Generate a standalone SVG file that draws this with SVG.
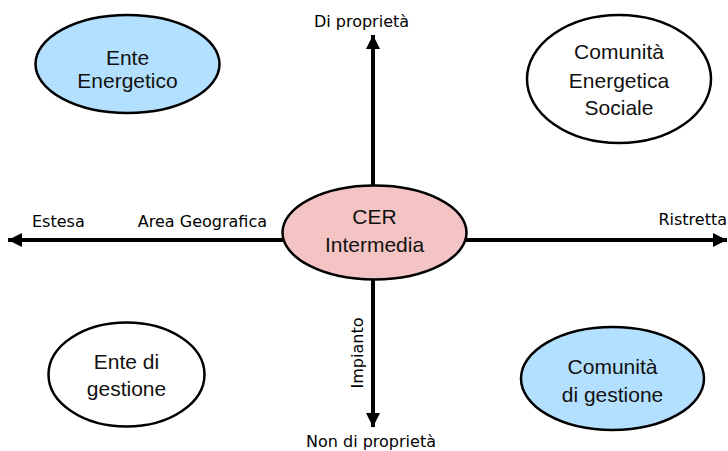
<svg xmlns="http://www.w3.org/2000/svg" width="728" height="451" viewBox="0 0 728 451">
<style>
.node ellipse{stroke:#000;stroke-width:2.5}
.nt{font-family:"Liberation Sans",Arial,sans-serif;font-size:21px;fill:#111;text-anchor:middle}
.lbl{font-family:"DejaVu Sans",Verdana,sans-serif;font-size:16px;fill:#000}
.ax{stroke:#000;stroke-width:4;fill:none}
</style>
<defs>
<marker id="ah" viewBox="0 0 10 10" refX="10" refY="5" markerWidth="3.6" markerHeight="3.6" orient="auto" markerUnits="strokeWidth">
<path d="M0,0 L10,5 L0,10 Z" fill="#000"/>
</marker>
</defs>
<rect width="728" height="451" fill="#fff"/>
<g id="connectors">
<line class="ax" x1="373" y1="186" x2="373" y2="35" marker-end="url(#ah)"/>
<line class="ax" x1="373" y1="279" x2="373" y2="427" marker-end="url(#ah)"/>
<line class="ax" x1="283" y1="240" x2="8" y2="240" marker-end="url(#ah)"/>
<line class="ax" x1="466" y1="240" x2="727" y2="240" marker-end="url(#ah)"/>
</g>
<g id="labels">
<text class="lbl" x="361.5" y="27" text-anchor="middle">Di proprietà</text>
<text class="lbl" x="371" y="447" text-anchor="middle">Non di proprietà</text>
<text class="lbl" x="32" y="227">Estesa</text>
<text class="lbl" x="267" y="227" text-anchor="end">Area Geografica</text>
<text class="lbl" x="727" y="225" text-anchor="end">Ristretta</text>
<text class="lbl" transform="translate(363,353) rotate(-90)" text-anchor="middle">Impianto</text>
</g>
<g id="ente-energetico" class="node">
<ellipse cx="127.5" cy="64" rx="92" ry="49" fill="#b3e0ff"/>
<text class="nt" x="127.5" y="65">Ente</text>
<text class="nt" x="127.5" y="88">Energetico</text>
</g>
<g id="comunita-energetica-sociale" class="node">
<ellipse cx="619" cy="79" rx="92" ry="64" fill="#fff"/>
<text class="nt" x="619" y="59">Comunità</text>
<text class="nt" x="619" y="88">Energetica</text>
<text class="nt" x="619" y="115">Sociale</text>
</g>
<g id="cer-intermedia" class="node">
<ellipse cx="374.5" cy="232.5" rx="92" ry="47" fill="#f4c4c4"/>
<text class="nt" x="374.5" y="224">CER</text>
<text class="nt" x="374.5" y="252">Intermedia</text>
</g>
<g id="ente-di-gestione" class="node">
<ellipse cx="126.5" cy="374.5" rx="78" ry="52" fill="#fff"/>
<text class="nt" x="126.5" y="369">Ente di</text>
<text class="nt" x="126.5" y="396">gestione</text>
</g>
<g id="comunita-di-gestione" class="node">
<ellipse cx="612.5" cy="378.5" rx="91.5" ry="51.5" fill="#b3e0ff"/>
<text class="nt" x="612.5" y="374">Comunità</text>
<text class="nt" x="612.5" y="402">di gestione</text>
</g>
</svg>
